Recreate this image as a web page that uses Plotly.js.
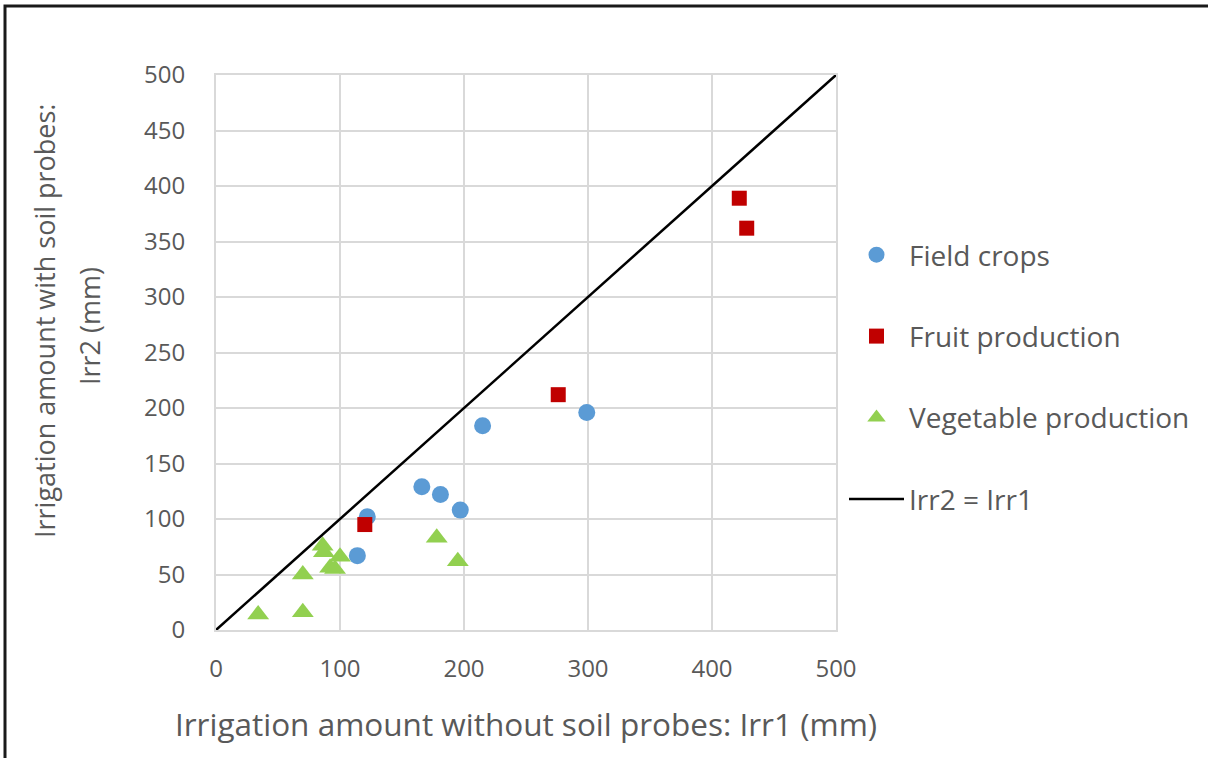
<!DOCTYPE html>
<html>
<head>
<meta charset="utf-8">
<script src="https://cdn.plot.ly/plotly-3.0.1.min.js"></script>
<style>
html,body{margin:0;padding:0;background:#fff;}
#chart{width:1208px;height:758px;}
</style>
</head>
<body>
<div id="chart"></div>
<script>
// Field crops
const fieldX = [215, 299, 166, 181, 197, 122, 114];
const fieldY = [184, 196, 129, 122, 108, 102, 67];
// Fruit production
const fruitX = [120, 276, 422, 428];
const fruitY = [95, 212, 389, 362];
// Vegetable production
const vegX = [34, 70, 70, 86, 87, 100, 92, 96, 178, 195];
const vegY = [14, 16, 50, 76, 70, 66, 56, 55, 83, 62];
// 1:1 line
const lineX = [0, 500];
const lineY = [0, 500];
const tickVals = [0, 50, 100, 150, 200, 250, 300, 350, 400, 450, 500];
const xTickVals = [0, 100, 200, 300, 400, 500];

const FONT = '"Open Sans", "Noto Sans", sans-serif';
const GREY = '#595959';

const traces = [
  {x: fieldX, y: fieldY, name: 'Field crops', type: 'scatter', mode: 'markers',
   legendgroup: 'a', marker: {symbol: 'circle', size: 17, color: '#5B9BD5'}},
  {x: fruitX, y: fruitY, name: 'Fruit production', type: 'scatter', mode: 'markers',
   legendgroup: 'b', marker: {symbol: 'square', size: 15, color: '#C00000'}},
  {x: vegX, y: vegY, name: 'Vegetable production', type: 'scatter', mode: 'markers',
   legendgroup: 'c', marker: {symbol: 'triangle-up', size: 19, color: '#92D050'}},
  {x: lineX, y: lineY, name: 'Irr2 = Irr1', type: 'scatter', mode: 'lines',
   legendgroup: 'd', line: {color: '#000000', width: 2.5}}
];

const px2x = p => (p - 216) / 620;
const px2y = p => (630 - p) / 555;

const layout = {
  width: 1208, height: 758,
  margin: {l: 216, r: 372, t: 75, b: 128},
  paper_bgcolor: '#ffffff', plot_bgcolor: '#ffffff',
  font: {family: FONT, color: GREY},
  showlegend: true,
  legend: {x: px2x(844), y: px2y(230), xanchor: 'left', yanchor: 'top', itemwidth: 55,
           font: {size: 28, color: GREY, family: FONT}, tracegroupgap: 42,
           bgcolor: 'rgba(0,0,0,0)'},
  xaxis: {range: [0, 500], tickvals: xTickVals, showgrid: true, gridcolor: '#d9d9d9', gridwidth: 2,
          zeroline: false, showline: true, linecolor: '#d9d9d9', linewidth: 2, mirror: true,
          ticks: 'outside', ticklen: 16, tickcolor: 'rgba(0,0,0,0)',
          tickfont: {size: 24, color: GREY, family: FONT},
          title: {text: 'Irrigation amount without soil probes: Irr1 (mm)', standoff: 31,
                  font: {size: 31.5, color: GREY, family: FONT}}},
  yaxis: {range: [0, 500], tickvals: tickVals, showgrid: true, gridcolor: '#d9d9d9', gridwidth: 2,
          zeroline: false, showline: true, linecolor: '#d9d9d9', linewidth: 2, mirror: true,
          ticks: 'outside', ticklen: 24, tickcolor: 'rgba(0,0,0,0)',
          tickfont: {size: 24, color: GREY, family: FONT}},
  annotations: [
    {text: 'Irrigation amount with soil probes:', xref: 'paper', yref: 'paper',
     x: px2x(44), y: px2y(321), xanchor: 'center', yanchor: 'middle', textangle: -90,
     showarrow: false, font: {size: 27, color: GREY, family: FONT}},
    {text: 'Irr2 (mm)', xref: 'paper', yref: 'paper',
     x: px2x(89), y: px2y(326), xanchor: 'center', yanchor: 'middle', textangle: -90,
     showarrow: false, font: {size: 27, color: GREY, family: FONT}}
  ],
  shapes: [
    {type: 'rect', xref: 'paper', yref: 'paper', x0: px2x(5), x1: px2x(1230), y0: px2y(790), y1: px2y(6),
     line: {color: '#1a1a1a', width: 3}, layer: 'below'}
  ]
};

Plotly.newPlot('chart', traces, layout, {displayModeBar: false, staticPlot: true});
</script>
</body>
</html>
